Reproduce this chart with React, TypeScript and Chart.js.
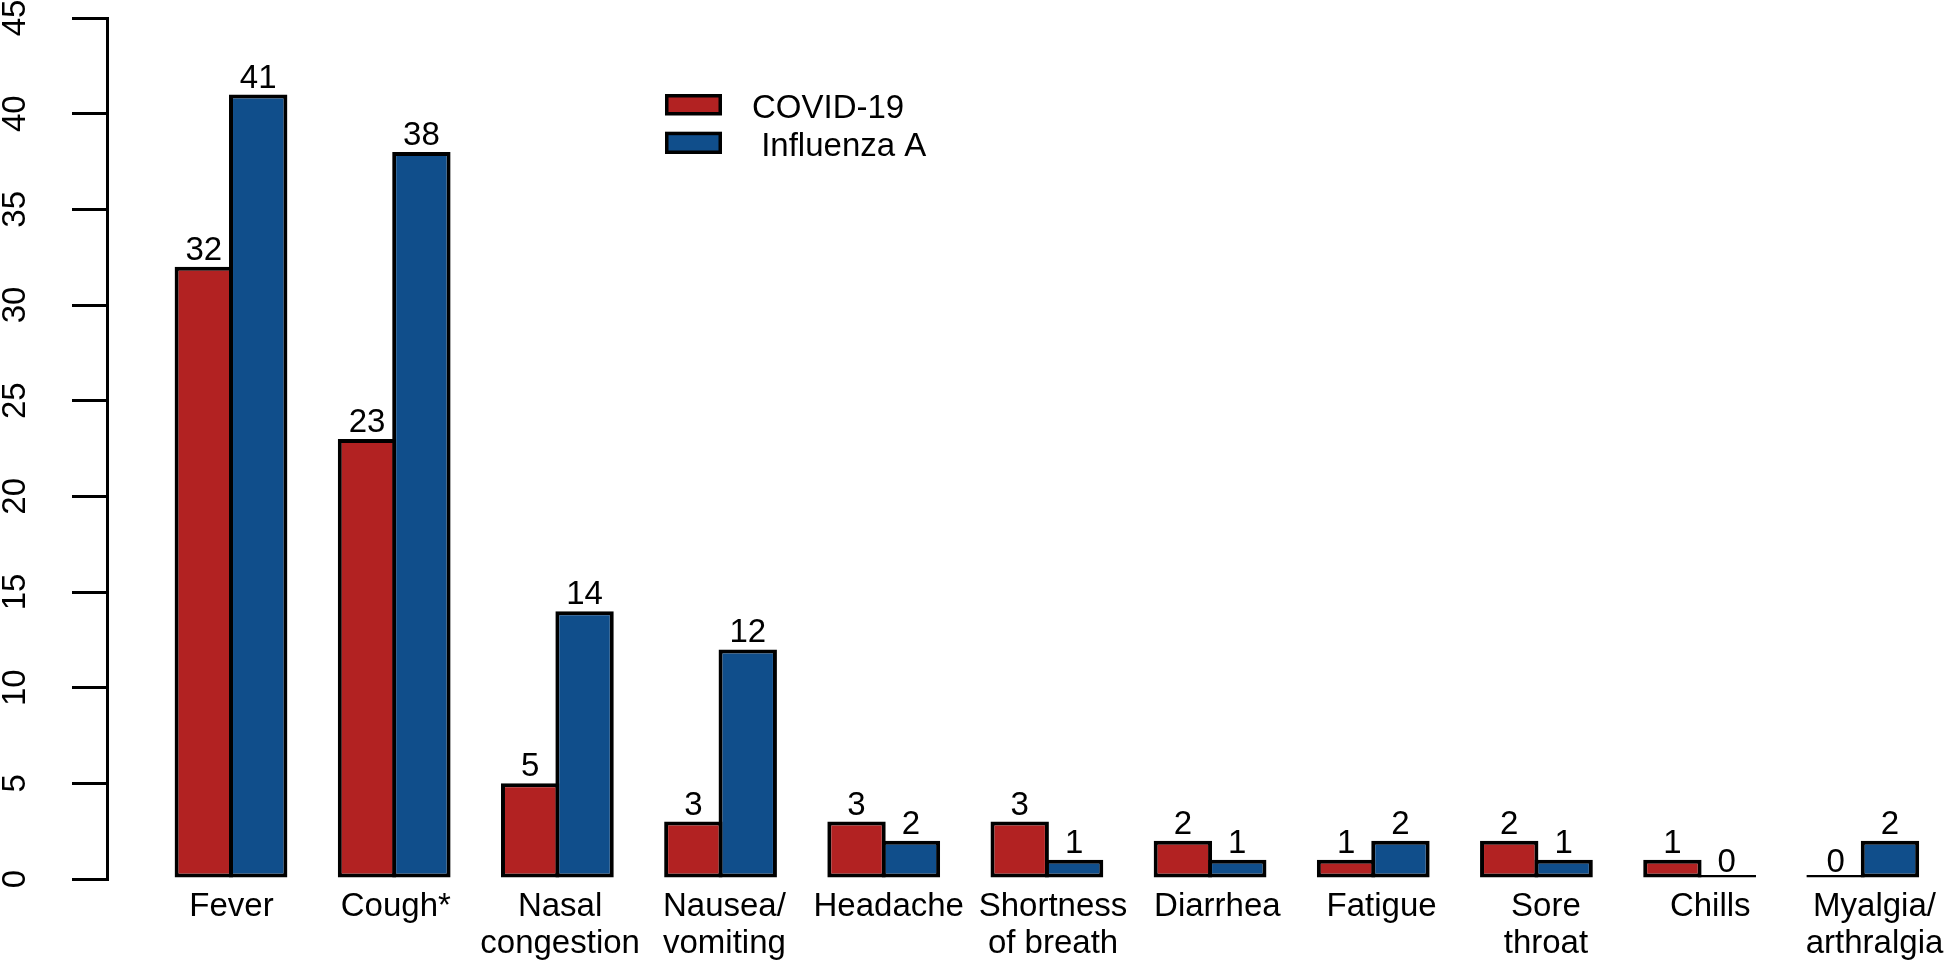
import { useEffect, useRef } from 'react';
import { Chart, registerables } from 'chart.js';

Chart.register(...registerables);

const categories: (string | string[])[] = [
  'Fever',
  'Cough*',
  ['Nasal', 'congestion'],
  ['Nausea/', 'vomiting'],
  'Headache',
  ['Shortness', 'of breath'],
  'Diarrhea',
  'Fatigue',
  ['Sore', 'throat'],
  'Chills',
  ['Myalgia/', 'arthralgia'],
];
const covidValues = [32, 23, 5, 3, 3, 3, 2, 1, 2, 1, 0];
const influenzaValues = [41, 38, 14, 12, 2, 1, 1, 2, 1, 0, 2];
const seriesNames = ['COVID-19', ' Influenza A'];
const seriesColors = ['#B22222', '#104E8B'];
const yTickValues = [0, 5, 10, 15, 20, 25, 30, 35, 40, 45];

const FONT = "'Liberation Sans', Arial, Helvetica, sans-serif";
const FS = 33;

const W = 1946;
const H = 965;

const overlayPlugin = {
  id: 'overlay',
  afterDraw(chart: any) {
    const ctx = chart.ctx as CanvasRenderingContext2D;
    const yScale = chart.scales.y;
    ctx.save();
    ctx.fillStyle = '#000';
    ctx.font = `${FS}px ${FONT}`;

    // rotated y tick labels
    for (const t of yScale.ticks) {
      const py = yScale.getPixelForValue(t.value);
      ctx.save();
      ctx.translate(25, py);
      ctx.rotate(-Math.PI / 2);
      ctx.textAlign = 'center';
      ctx.textBaseline = 'alphabetic';
      ctx.fillText(String(t.value), 0, 0);
      ctx.restore();
    }

    // value labels above bars
    chart.data.datasets.forEach((ds: any, di: number) => {
      const meta = chart.getDatasetMeta(di);
      meta.data.forEach((el: any, i: number) => {
        const v = ds.data[i].y;
        const py = yScale.getPixelForValue(v);
        ctx.textAlign = 'center';
        ctx.textBaseline = 'alphabetic';
        ctx.fillText(String(v), el.x, py - 7);
      });
    });

    // legend
    const boxX = 665;
    const boxW = 57;
    const rows = [
      { boxY: 94, boxH: 21.5, textY: 118.3 },
      { boxY: 131.7, boxH: 22.3, textY: 155.7 },
    ];
    chart.data.datasets.forEach((ds: any, di: number) => {
      const r = rows[di];
      ctx.fillStyle = '#000';
      ctx.fillRect(boxX, r.boxY, boxW, r.boxH);
      ctx.fillStyle = ds.backgroundColor;
      ctx.fillRect(boxX + 3.5, r.boxY + 3.5, boxW - 7, r.boxH - 7);
      ctx.fillStyle = '#000';
      ctx.textAlign = 'left';
      ctx.textBaseline = 'alphabetic';
      ctx.fillText(ds.label, 752, r.textY);
    });
    ctx.restore();
  },
};

export default function App() {
  const canvasRef = useRef<HTMLCanvasElement | null>(null);

  useEffect(() => {
    if (!canvasRef.current) return;
    const chart = new Chart(canvasRef.current, {
      type: 'bar',
      data: {
        datasets: [covidValues, influenzaValues].map((vals, di) => ({
          label: seriesNames[di],
          data: vals.map((v, i) => ({ x: i, y: v })),
          xAxisID: 'x',
          yAxisID: 'y',
          backgroundColor: seriesColors[di],
          borderColor: '#000',
          borderWidth: 4,
          borderSkipped: false,
          minBarLength: 4,
          barPercentage: 1.0735,
          categoryPercentage: 2 / 3,
        })),
      },
      options: {
        responsive: false,
        animation: false,
        layout: { padding: { top: 18, left: 0, right: 0, bottom: 0 } },
        plugins: {
          legend: { display: false },
          tooltip: { enabled: false },
        },
        scales: {
          x: {
            type: 'linear',
            display: false,
            min: -0.76,
            max: 10.51,
            offset: false,
            grid: { display: false, offset: false },
            afterBuildTicks: (scale: any) => {
              scale.ticks = categories.map((_, i) => ({ value: i }));
            },
          },
          xLabels: {
            type: 'linear',
            position: 'bottom',
            min: -0.7578,
            max: 10.435,
            offset: false,
            grid: { display: false, drawTicks: false, offset: false },
            border: { display: false },
            afterBuildTicks: (scale: any) => {
              scale.ticks = categories.map((_, i) => ({ value: i }));
            },
            afterFit: (scale: any) => {
              scale.height = H - 879;
              scale.paddingLeft = 0;
              scale.paddingRight = 0;
            },
            ticks: {
              autoSkip: false,
              maxRotation: 0,
              minRotation: 0,
              padding: 9,
              color: '#000',
              font: { family: FONT, size: FS, lineHeight: 1.12 },
              callback: (value: any) => categories[Number(value)] as any,
            },
          },
          y: {
            type: 'linear',
            min: 0,
            max: 45,
            afterBuildTicks: (scale: any) => {
              scale.ticks = yTickValues.map((v) => ({ value: v }));
            },
            afterFit: (scale: any) => {
              scale.width = 107;
              scale.paddingTop = 0;
              scale.paddingBottom = 0;
            },
            grid: {
              drawOnChartArea: false,
              drawTicks: true,
              tickLength: 35,
              lineWidth: 3,
              color: '#000',
            },
            border: { display: true, width: 3, color: '#000' },
            ticks: { display: false },
          },
        },
      },
      plugins: [overlayPlugin],
    });
    return () => chart.destroy();
  }, []);

  return (
    <div style={{ position: 'fixed', left: 0, top: 0, width: W, height: H, background: '#fff' }}>
      <canvas ref={canvasRef} width={W} height={H} style={{ width: W, height: H, display: 'block' }} />
    </div>
  );
}
